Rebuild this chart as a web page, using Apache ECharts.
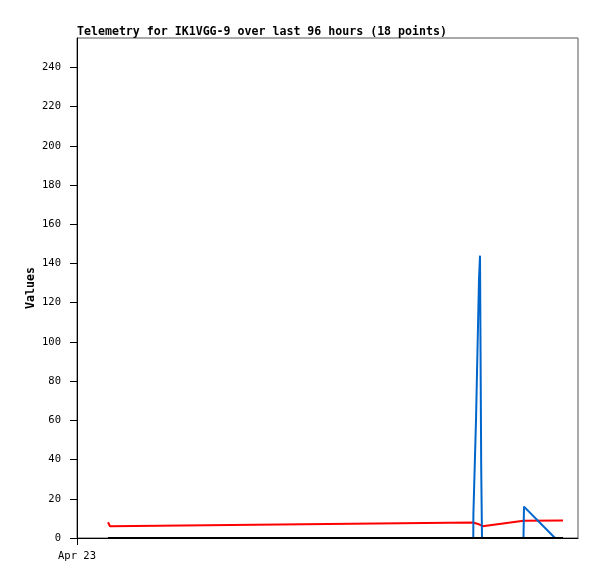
<!DOCTYPE html>
<html>
<head>
<meta charset="utf-8">
<script src="https://cdn.jsdelivr.net/npm/echarts@6/dist/echarts.min.js"></script>
<style>
html,body{margin:0;padding:0;background:#fff;}
#chart{width:597px;height:579px;}
</style>
</head>
<body>
<div id="chart"></div>
<script>
// Hours since Apr 23 00:00
var redTimes   = [6.19, 6.59, 79.04, 80.24, 80.94, 89.12, 97.01];
var redValues  = [8, 6, 7.9, 7.0, 6.0, 8.8, 8.9];

var blueTimes  = [6.19, 79.10, 79.12, 79.38, 79.64, 79.84, 80.04, 80.24, 80.44, 80.52, 80.68, 80.84, 89.12, 89.22, 95.41, 97.01];
var blueValues = [0, 0, 12, 36, 60, 84, 108, 132, 144, 108, 36, 0, 0, 16, 0, 0];

var blackTimes  = [6.19, 97.01];
var blackValues = [0, 0];

var yTicks = [0, 20, 40, 60, 80, 100, 120, 140, 160, 180, 200, 220, 240];
var xTicks = [0];
var xTickLabels = ['Apr 23'];

function pairs(t, v) { return t.map(function (x, i) { return [x, v[i]]; }); }

var mono = 'DejaVu Sans Mono';
var chart = echarts.init(document.getElementById('chart'), null, {renderer: 'canvas'});
chart.setOption({
  animation: false,
  backgroundColor: '#fff',
  title: {
    text: 'Telemetry for IK1VGG-9 over last 96 hours (18 points)',
    left: 77, top: 26, padding: 0,
    textStyle: {fontFamily: mono, fontSize: 11.6, fontWeight: 'bold', color: '#000', lineHeight: 12}
  },
  grid: {left: 77, top: 38, right: 19, bottom: 41, show: true, borderColor: '#555', borderWidth: 1, backgroundColor: 'transparent'},
  xAxis: {
    type: 'value', min: 0, max: 100,
    axisLine: {show: true, onZero: false, lineStyle: {color: '#000', width: 1}},
    axisTick: {show: true, length: 7, customValues: xTicks, lineStyle: {color: '#000'}},
    axisLabel: {
      customValues: xTicks, margin: 13,
      fontFamily: mono, fontSize: 10.5, color: '#000',
      formatter: function (v) { var i = xTicks.indexOf(v); return i >= 0 ? xTickLabels[i] : ''; }
    },
    splitLine: {show: false}
  },
  yAxis: {
    type: 'value', min: 0, max: 255, interval: 20,
    name: 'Values', nameLocation: 'middle', nameRotate: 90, nameGap: 40, nameMoveOverlap: false,
    nameTextStyle: {fontFamily: mono, fontSize: 11.6, fontWeight: 'bold', color: '#000'},
    axisLine: {show: true, lineStyle: {color: '#000', width: 1}},
    axisTick: {show: true, length: 7, customValues: yTicks, lineStyle: {color: '#000'}},
    axisLabel: {customValues: yTicks, margin: 16, fontFamily: mono, fontSize: 10.5, color: '#000'},
    splitLine: {show: false}
  },
  series: [
    {type: 'line', data: pairs(redTimes, redValues), showSymbol: false, lineStyle: {color: '#ff0000', width: 2}, itemStyle: {color: '#ff0000'}, z: 2},
    {type: 'line', data: pairs(blueTimes, blueValues), showSymbol: false, lineStyle: {color: '#0066cc', width: 2}, itemStyle: {color: '#0066cc'}, z: 3},
    {type: 'line', data: pairs(blackTimes, blackValues), showSymbol: false, lineStyle: {color: '#000000', width: 2}, itemStyle: {color: '#000'}, z: 4}
  ]
});
</script>
</body>
</html>
